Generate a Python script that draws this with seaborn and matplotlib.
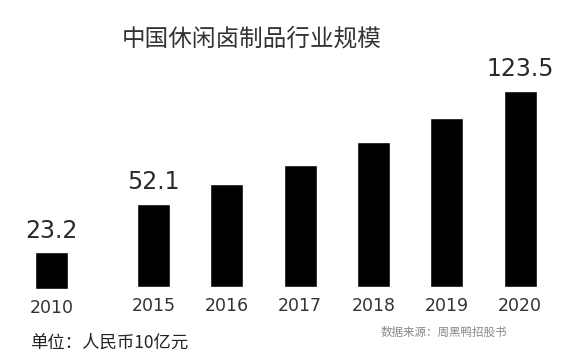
import matplotlib
matplotlib.use("Agg")
import matplotlib.pyplot as plt
import seaborn as sns
import pandas as pd

# ---- data ----
years_early = ["2010"]
values_early = [23.2]
years_recent = ["2015", "2016", "2017", "2018", "2019", "2020"]
values_recent = [52.1, 64.5, 77.0, 91.5, 106.5, 123.5]
labelled_years = ["2010", "2015", "2020"]

title = "中国休闲卤制品行业规模"
unit_note = "单位：人民币10亿元"
source_note = "数据来源：周黑鸭招股书"

sns.set_theme(style="white")
plt.rcParams["font.family"] = ["Noto Sans CJK SC", "DejaVu Sans"]

fig = plt.figure(figsize=(5.65, 3.57), dpi=100)
ax_l = fig.add_axes([0.0263, 0.190, 0.1298, 0.579])
ax_r = fig.add_axes([0.2067, 0.196, 0.7786, 0.579])

df_l = pd.DataFrame({"year": years_early, "value": values_early})
df_r = pd.DataFrame({"year": years_recent, "value": values_recent})

for ax, df in ((ax_l, df_l), (ax_r, df_r)):
    sns.barplot(data=df, x="year", y="value", color="black", saturation=1,
                width=0.45, ax=ax)
    ax.set_ylim(0, 130)
    ax.set_xlabel("")
    ax.set_ylabel("")
    ax.set_yticks([])
    for s in ax.spines.values():
        s.set_visible(False)
    ax.tick_params(axis="x", length=0, pad=7, labelsize=12.5, labelcolor="#333333")
    for lab in ax.get_xticklabels():
        lab.set_fontfamily("DejaVu Sans")
    ax.set_facecolor("none")
    for i, (yr, v) in enumerate(zip(df["year"], df["value"])):
        if yr in labelled_years:
            ax.annotate(f"{v:.1f}", (i, v), xytext=(0, 7), textcoords="offset points",
                        ha="center", va="bottom", fontsize=17, color="#2a2a2a",
                        family="DejaVu Sans")

fig.text(0.446, 0.892, title, ha="center", va="center", fontsize=17, color="#333333")
fig.text(0.053, 0.040, unit_note, ha="left", va="center", fontsize=12.5, color="#222222")
fig.text(0.673, 0.068, source_note, ha="left", va="center", fontsize=8.3, color="#888888")

fig.savefig("out.png", dpi=100)
